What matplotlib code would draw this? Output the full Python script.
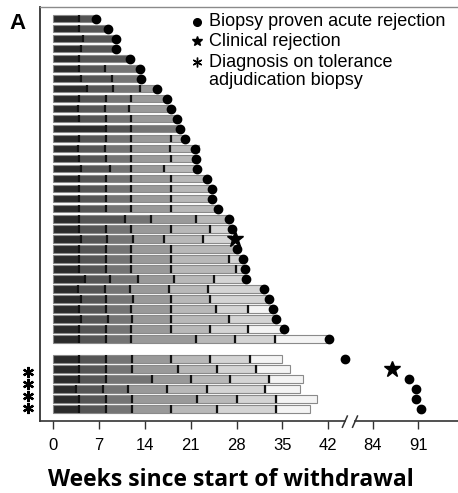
import matplotlib
matplotlib.use("Agg")
import matplotlib.pyplot as plt
import numpy as np

plt.rcParams['font.family'] = ['Liberation Sans', 'DejaVu Sans']

# weeks at which each step of the withdrawal ended (last value = end of bar)
top_steps = [
    [4.0, 6.5],
    [4.0, 8.4],
    [4.6, 9.5],
    [4.3, 9.6],
    [4.0, 11.7],
    [4.0, 7.9, 13.2],
    [4.3, 8.9, 13.4],
    [5.1, 9.1, 13.2, 15.9],
    [4.0, 8.0, 11.9, 17.4],
    [3.8, 7.9, 11.5, 17.9],
    [4.0, 8.0, 11.9, 18.9],
    [8.0, 11.8, 19.3],
    [4.0, 8.0, 11.9, 17.9, 20.1],
    [3.8, 7.9, 11.8, 17.8, 22.2],
    [4.0, 8.0, 11.9, 17.9, 21.8],
    [4.3, 8.7, 11.8, 16.9, 21.9],
    [4.0, 8.0, 11.9, 17.9, 23.5],
    [4.0, 8.0, 11.9, 17.9, 24.2],
    [4.0, 8.0, 11.9, 17.9, 24.2],
    [4.0, 8.0, 11.9, 17.9, 25.1],
    [4.0, 10.9, 14.9, 21.8, 26.9],
    [4.0, 8.0, 11.9, 17.9, 23.9, 27.3],
    [4.3, 8.2, 12.2, 16.9, 22.8, 27.2],
    [4.0, 8.0, 11.9, 17.9, 28.1],
    [4.0, 8.0, 11.9, 17.9, 26.8, 28.9],
    [4.0, 8.0, 11.9, 17.9, 27.9, 29.2],
    [4.9, 8.6, 12.9, 18.5, 24.5, 29.4],
    [3.7, 7.9, 11.7, 17.6, 23.6, 32.1],
    [4.2, 8.0, 12.2, 18.0, 24.0, 32.9],
    [4.0, 8.0, 11.9, 17.9, 24.9, 29.8, 33.6],
    [4.3, 8.4, 12.0, 17.9, 26.8, 34.0],
    [4.0, 8.0, 11.9, 17.9, 23.9, 29.8, 35.2],
    [4.0, 8.0, 11.9, 21.8, 27.8, 33.8, 42.1],
]
# event week and type for each top patient: 'b' biopsy proven, 'c' clinical
top_event_week = [6.5, 8.4, 9.5, 9.6, 11.7, 13.2, 13.4, 15.9, 17.4, 17.9, 18.9,
                  19.3, 20.1, 21.6, 21.8, 21.9, 23.5, 24.2, 24.2, 25.1, 26.9,
                  27.3, 27.7, 28.1, 28.9, 29.2, 29.4, 32.1, 32.9, 33.6, 34.0,
                  35.2, 42.1]
top_event_type = ['b'] * 22 + ['c'] + ['b'] * 10

bottom_steps = [
    [4.0, 8.0, 12.0, 18.0, 24.0, 30.0, 35.0],
    [4.0, 8.0, 12.0, 19.0, 25.0, 31.0, 36.1],
    [4.0, 8.0, 15.0, 21.0, 27.0, 33.0, 38.2],
    [3.5, 7.6, 11.4, 17.4, 23.4, 32.4, 37.7],
    [4.0, 8.0, 12.0, 22.0, 28.0, 34.0, 40.2],
    [4.0, 8.0, 12.0, 18.0, 25.0, 34.0, 39.2],
]
bottom_event_week = [44.5, 87.0, 89.6, 90.6, 90.6, 91.4]
bottom_event_type = ['b', 'c', 'b', 'b', 'b', 'b']
tolerance_biopsy = [1, 2, 3, 4]   # bottom patients with the asterisk

tick_weeks = [0, 7, 14, 21, 28, 35, 42, 84, 91]

shades = ['#2b2b2b', '#555555', '#747474', '#999999', '#b8b8b8', '#d4d4d4', '#f4f4f4']
BREAK_SHIFT = 35.25


def axis_x(w):
    w = np.asarray(w, dtype=float)
    return np.where(w > 60, w - BREAK_SHIFT, w)


fig = plt.figure(figsize=(4.58, 4.93), dpi=100)
ax = fig.add_axes([40/458, 72/493, 418/458, 414/493])

rows = list(range(len(top_steps))) + [len(top_steps) + 1 + k for k in range(len(bottom_steps))]
all_steps = top_steps + bottom_steps
events = list(zip(top_event_week, top_event_type)) + list(zip(bottom_event_week, bottom_event_type))

for y, steps, (ev_w, ev_t) in zip(rows, all_steps, events):
    starts = [0] + steps[:-1]
    widths = np.diff([0] + steps)
    ax.barh(y, widths, left=starts, height=0.72, color=shades[:len(steps)],
            edgecolor='#8a8a8a', linewidth=0.8, zorder=2)
    ax.vlines(steps[:-1], y - 0.36, y + 0.36, colors='#111111', linewidth=1.6, zorder=3)
    if ev_t == 'b':
        ax.plot(axis_x(ev_w), y, 'o', color='black', ms=6, zorder=4, clip_on=False)
    else:
        ax.plot(axis_x(ev_w), y, '*', color='black', ms=12, zorder=4, clip_on=False)

# asterisks left of the axis
bottom0 = len(top_steps) + 1
ast_y = [bottom0 + r + 0.1 + 0.2 * r for r in tolerance_biopsy]
ax.plot([-0.029] * len(ast_y), ast_y, linestyle='none', marker=(6, 2, 0), ms=8,
        mew=1.6, color='black', transform=ax.get_yaxis_transform(), clip_on=False)

ax.set_xlim(-2.03, 61.8)
ax.set_ylim(40.19, -1.17)

ax.set_xticks(axis_x(tick_weeks))
ax.set_xticklabels([str(t) for t in tick_weeks], fontsize=12)
ax.set_yticks([])
ax.tick_params(axis='x', length=6, width=1, color='#333333', pad=6)

for s in ['right', 'bottom']:
    ax.spines[s].set_visible(False)
ax.spines['left'].set_color('#333333')
ax.spines['left'].set_linewidth(1.3)
ax.spines['top'].set_color('#8a8a8a')
ax.spines['top'].set_linewidth(1.0)

# broken bottom axis
bx = ax.get_xaxis_transform()
ax.plot([-2.03, 44.55], [0, 0], color='#333333', lw=1.2, transform=bx, clip_on=False)
ax.plot([46.1, 61.8], [0, 0], color='#333333', lw=1.2, transform=bx, clip_on=False)
for x0 in [44.15, 45.7]:
    ax.plot([x0, x0 + 0.75], [-0.015, 0.012], color='#333333', lw=1.1,
            transform=bx, clip_on=False)

# legend drawn by hand
lx, tx = 0.375, 0.405
ax.plot(lx, 0.964, 'o', color='black', ms=5.5, transform=ax.transAxes)
ax.plot(lx, 0.917, '*', color='black', ms=7, transform=ax.transAxes)
ax.plot(lx, 0.867, marker=(6, 2, 0), ms=7, mew=1.0, color='black', transform=ax.transAxes)
ax.text(tx, 0.964, 'Biopsy proven acute rejection', fontsize=13, va='center', transform=ax.transAxes)
ax.text(tx, 0.917, 'Clinical rejection', fontsize=13, va='center', transform=ax.transAxes)
ax.text(tx, 0.867, 'Diagnosis on tolerance', fontsize=13, va='center', transform=ax.transAxes)
ax.text(tx, 0.822, 'adjudication biopsy', fontsize=13, va='center', transform=ax.transAxes)

fig.text(9/458, 1 - 29/493, 'A', fontsize=16, fontweight='bold', ha='left', va='baseline')
fig.text(231/458, 1 - 480/493, 'Weeks since start of withdrawal', fontsize=16.5,
         fontweight='bold', family=['Open Sans', 'DejaVu Sans'], ha='center', va='center')

fig.savefig('out.png', dpi=100)
